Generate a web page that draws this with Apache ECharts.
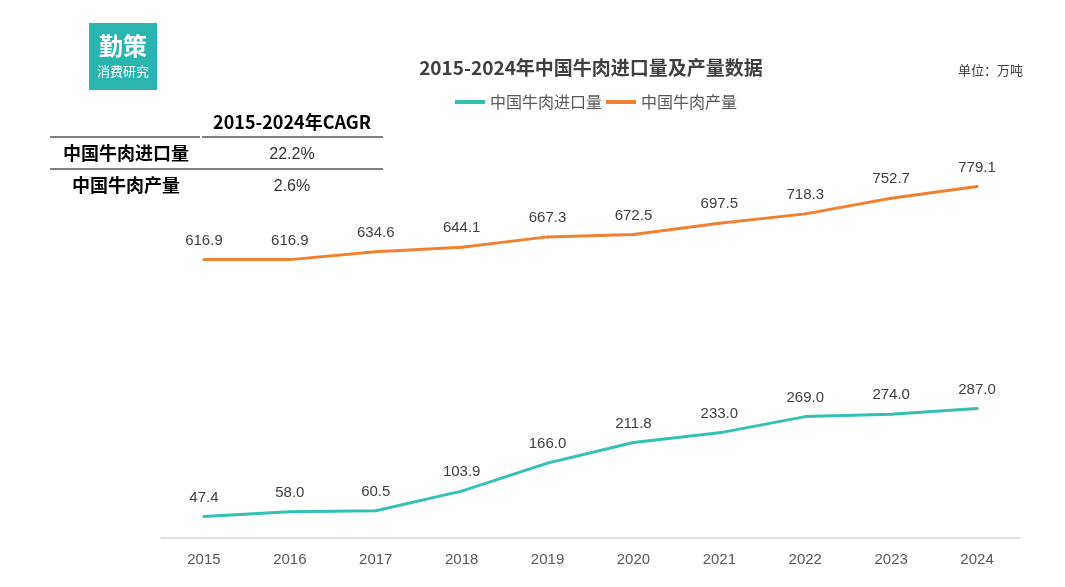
<!DOCTYPE html>
<html>
<head>
<meta charset="utf-8">
<script src="https://cdn.jsdelivr.net/npm/echarts@6/dist/echarts.min.js"></script>
<style>
  html, body { margin: 0; padding: 0; background: #fff; }
  #main { width: 1065px; height: 587px; }
</style>
</head>
<body>
<div id="main"></div>
<script>
// 数据
var years = ["2015", "2016", "2017", "2018", "2019", "2020", "2021", "2022", "2023", "2024"];
var importVals = [47.4, 58.0, 60.5, 103.9, 166.0, 211.8, 233.0, 269.0, 274.0, 287.0];
var outputVals = [616.9, 616.9, 634.6, 644.1, 667.3, 672.5, 697.5, 718.3, 752.7, 779.1];
var seriesNames = ["中国牛肉进口量", "中国牛肉产量"];
var cagrVals = ["22.2%", "2.6%"];

var cnFont = '"Noto Sans CJK SC", "Liberation Sans", sans-serif';
var numFont = '"Liberation Sans", Arial, sans-serif';

(function () {
    var myChart = echarts.init(document.getElementById("main"));

    // 表格
    var tableEls = [
        { type: "text", x: 292, y: 122, style: { text: "2015-2024年CAGR", font: "bold 18px " + cnFont, fill: "#000", align: "center", verticalAlign: "middle" } },
        { type: "line", shape: { x1: 50, y1: 137, x2: 200, y2: 137 }, style: { stroke: "#000", lineWidth: 1 } },
        { type: "line", shape: { x1: 202, y1: 137, x2: 383, y2: 137 }, style: { stroke: "#000", lineWidth: 1 } },
        { type: "line", shape: { x1: 50, y1: 169, x2: 383, y2: 169 }, style: { stroke: "#000", lineWidth: 1 } }
    ];
    var rowY = [153, 185];
    seriesNames.forEach(function (n, i) {
        tableEls.push({ type: "text", x: 126, y: rowY[i], style: { text: n, font: "bold 18px " + cnFont, fill: "#000", align: "center", verticalAlign: "middle" } });
        tableEls.push({ type: "text", x: 292, y: rowY[i] + 2, style: { text: cagrVals[i], font: "16px " + numFont, fill: "#333", align: "center", verticalAlign: "middle" } });
    });

    var labelCfg = {
        show: true,
        position: "top",
        distance: 10,
        color: "#404040",
        fontSize: 15,
        fontFamily: numFont,
        formatter: function (p) { return p.value.toFixed(1); }
    };

    var option = {
        color: ["#33c1b3", "#f08133"],
        title: {
            text: "2015-2024年中国牛肉进口量及产量数据",
            left: 586,
            top: 53,
            textAlign: "center",
            textStyle: { fontFamily: cnFont, fontSize: 19, fontWeight: "bold", color: "#404040" }
        },
        legend: {
            data: seriesNames,
            top: 89,
            left: 450,
            itemWidth: 30,
            itemGap: 4,
            icon: "rect",
            itemHeight: 4,
            textStyle: { fontFamily: cnFont, fontSize: 16, color: "#595959" }
        },
        grid: {
            top: 177,
            bottom: 49,
            left: 161,
            right: 45
        },
        xAxis: {
            type: "category",
            data: years,
            boundaryGap: true,
            axisLine: { lineStyle: { color: "#d9d9d9", width: 1.5 } },
            axisTick: { show: false },
            axisLabel: { color: "#595959", fontSize: 15, margin: 14, fontFamily: numFont }
        },
        yAxis: {
            type: "value",
            min: 0,
            max: 800,
            show: false,
            splitLine: { show: false }
        },
        series: [
            {
                name: seriesNames[0],
                type: "line",
                data: importVals,
                symbol: "circle",
                symbolSize: 3,
                lineStyle: { width: 3 },
                label: labelCfg
            },
            {
                name: seriesNames[1],
                type: "line",
                data: outputVals,
                symbol: "circle",
                symbolSize: 3,
                lineStyle: { width: 3 },
                label: labelCfg
            }
        ],
        graphic: [
            // 标志
            { type: "rect", left: 89, top: 23, shape: { width: 68, height: 67 }, style: { fill: "#2bb5b1" } },
            { type: "text", x: 123, y: 46, style: { text: "勤策", font: "bold 24px " + cnFont, fill: "#fff", align: "center", verticalAlign: "middle" } },
            { type: "text", x: 123, y: 71, style: { text: "消费研究", font: "13px " + cnFont, fill: "#fff", align: "center", verticalAlign: "middle" } },
            // 单位
            { type: "text", right: 42, top: 64, style: { text: "单位：万吨", font: "13px " + cnFont, fill: "#404040" } }
        ].concat(tableEls)
    };
    myChart.setOption(option);
})();
</script>
</body>
</html>
